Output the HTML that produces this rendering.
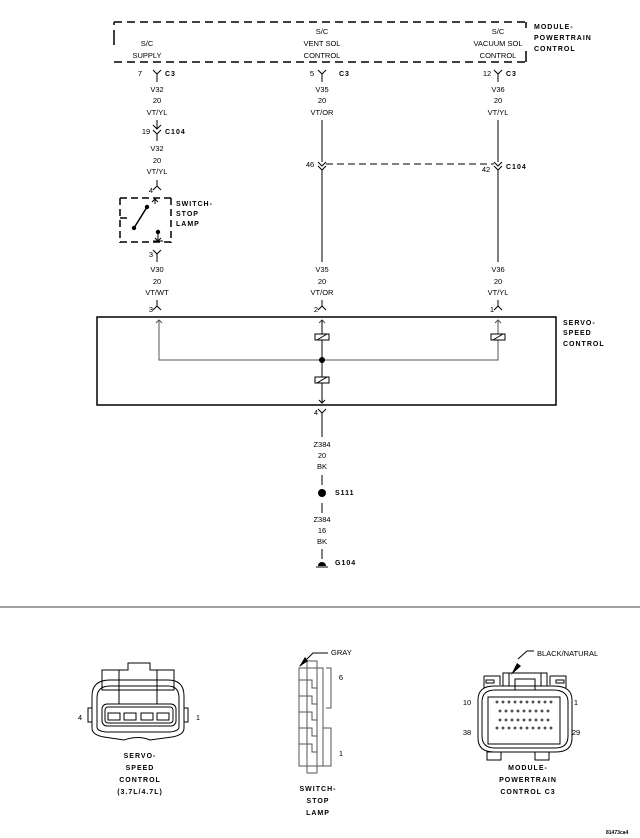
<!DOCTYPE html>
<html><head><meta charset="utf-8"><style>
html,body{margin:0;padding:0;background:#fff;}
svg{display:block;}
text{font-family:"Liberation Sans",sans-serif;fill:#000;}
.s{font-size:7.5px;font-stretch:condensed;}
.b{font-size:7px;font-weight:bold;letter-spacing:1px;}
</style></head><body>
<svg width="640" height="838" viewBox="0 0 640 838" xmlns="http://www.w3.org/2000/svg">
<g stroke="#000" fill="none" stroke-width="1">
<path d="M114 22 H526" stroke-dasharray="8,5" stroke-width="1.5"/>
<path d="M114 62 H526" stroke-dasharray="8,5" stroke-width="1.5"/>
<path d="M114 22 V25 M114 30 V45 M526 22 V28 M526 51 V62" stroke-width="1.5"/>
<path d="M153 70 L157 74 L161 70 M157 74 V82"/>
<path d="M157 120 V128 M153 125 L157 129 L161 125 M153 130 L157 134 L161 130 M157 134 V141"/>
<path d="M157 180 V186 M153 190 L157 186 L161 190"/>
<path d="M120 198 H171 M120 242 H171 M120 198 V243 M171 198 V243 M120 218 H128" stroke-dasharray="7,4" stroke-width="1.5"/>
<path d="M155 199 V204 M152 202 L155 199 L158 202"/>
<path d="M134 228 L147 207" stroke-width="1.5"/>
<path d="M158 232 V242 M153 241 H163 M155 238 L158 241 L161 238"/>
<path d="M153 250 L157 254 L161 250 M157 254 V262"/>
<path d="M157 300 V306 M153 310 L157 306 L161 310"/>
<path d="M318 70 L322 74 L326 70 M322 74 V82"/>
<path d="M322 120 V162 M318 162 L322 166 L326 162 M318 166 L322 170 L326 166 M322 170 V262"/>
<path d="M322 300 V306 M318 310 L322 306 L326 310"/>
<path d="M494 70 L498 74 L502 70 M498 74 V82"/>
<path d="M498 120 V162 M494 162 L498 166 L502 162 M494 166 L498 170 L502 166 M498 170 V262"/>
<path d="M498 300 V306 M494 310 L498 306 L502 310"/>
<path d="M326 164 H494" stroke-dasharray="7,4"/>
<rect x="97" y="317" width="459" height="88" stroke-width="1.5"/>
<path d="M159 320 V360 H498 V320 M156 323 L159 320 L162 323 M319 323 L322 320 L325 323 M495 323 L498 320 L501 323" stroke="#555"/>
<path d="M322 320 V403 M319 400 L322 403 L325 400"/>
<rect x="315" y="334" width="14" height="6" fill="#fff"/><path d="M317 340 L327 334"/>
<rect x="491" y="334" width="14" height="6" fill="#fff"/><path d="M493 340 L503 334"/>
<rect x="315" y="377" width="14" height="6" fill="#fff"/><path d="M317 383 L327 377"/>
<path d="M318 409 L322 413 L326 409 M322 413 V437"/>
<path d="M322 475 V485 M322 503 V513 M322 549 V559 M316 567 H328"/>
<path d="M0 607 H640" stroke="#444"/>
</g>
<circle cx="322" cy="360" r="3"/>
<circle cx="147" cy="207" r="2.2"/><circle cx="134" cy="228" r="2.2"/><circle cx="158" cy="232" r="2.2"/>
<circle cx="322" cy="493" r="4"/>
<path d="M318 566 A4 4 0 0 1 326 566 Z"/>
<g class="s" text-anchor="middle">
<text x="147" y="46">S/C</text><text x="147" y="58">SUPPLY</text>
<text x="322" y="34">S/C</text><text x="322" y="46">VENT SOL</text><text x="322" y="58">CONTROL</text>
<text x="498" y="34">S/C</text><text x="498" y="46">VACUUM SOL</text><text x="498" y="58">CONTROL</text>
<text x="157" y="92">V32</text><text x="157" y="103">20</text><text x="157" y="115">VT/YL</text>
<text x="157" y="151">V32</text><text x="157" y="163">20</text><text x="157" y="174">VT/YL</text>
<text x="322" y="92">V35</text><text x="322" y="103">20</text><text x="322" y="115">VT/OR</text>
<text x="498" y="92">V36</text><text x="498" y="103">20</text><text x="498" y="115">VT/YL</text>
<text x="157" y="272">V30</text><text x="157" y="284">20</text><text x="157" y="295">VT/WT</text>
<text x="322" y="272">V35</text><text x="322" y="284">20</text><text x="322" y="295">VT/OR</text>
<text x="498" y="272">V36</text><text x="498" y="284">20</text><text x="498" y="295">VT/YL</text>
<text x="322" y="447">Z384</text><text x="322" y="458">20</text><text x="322" y="469">BK</text>
<text x="322" y="522">Z384</text><text x="322" y="533">16</text><text x="322" y="544">BK</text>
<text x="140" y="76">7</text><text x="312" y="76">5</text><text x="487" y="76">12</text>
<text x="146" y="134">19</text><text x="151" y="193">4</text><text x="151" y="257">3</text>
<text x="310" y="167">46</text><text x="486" y="172">42</text>
<text x="151" y="312">3</text><text x="316" y="312">2</text><text x="492" y="312">1</text>
<text x="316" y="415">4</text>
<text x="80" y="720">4</text><text x="198" y="720">1</text>
<text x="341" y="680">6</text><text x="341" y="756">1</text>
<text x="467" y="705">10</text><text x="576" y="705">1</text>
<text x="467" y="735">38</text><text x="576" y="735">29</text>
</g>
<g class="b">
<text x="165" y="76">C3</text><text x="339" y="76">C3</text><text x="506" y="76">C3</text>
<text x="165" y="134">C104</text><text x="506" y="169">C104</text>
<text x="176" y="206">SWITCH-</text><text x="176" y="216">STOP</text><text x="176" y="226">LAMP</text>
<text x="534" y="29">MODULE-</text><text x="534" y="40">POWERTRAIN</text><text x="534" y="51">CONTROL</text>
<text x="563" y="325">SERVO-</text><text x="563" y="335">SPEED</text><text x="563" y="346">CONTROL</text>
<text x="335" y="495">S111</text><text x="335" y="565">G104</text>
</g>
<g class="b" text-anchor="middle">
<text x="140" y="758">SERVO-</text><text x="140" y="770">SPEED</text><text x="140" y="782">CONTROL</text><text x="140" y="794">(3.7L/4.7L)</text>
<text x="318" y="791">SWITCH-</text><text x="318" y="803">STOP</text><text x="318" y="815">LAMP</text>
<text x="528" y="770">MODULE-</text><text x="528" y="782">POWERTRAIN</text><text x="528" y="794">CONTROL C3</text>
</g>
<text x="606" y="834" style="font-size:5px;font-weight:bold">81473ca4</text>
<g stroke="#000" fill="none" stroke-width="1">
<path d="M102 670 H128 V663 H150 V670 H174 V690 H102 Z"/>
<path d="M92 696 Q92 680 110 680 H168 Q184 680 184 696 V728 Q184 735 172 737 L150 740 Q138 735 124 740 L104 737 Q92 735 92 728 Z"/>
<path d="M97 698 Q97 686 110 686 H168 Q179 686 179 698 V727 Q179 731 170 732 H106 Q97 731 97 727 Z"/>
<rect x="102" y="704" width="74" height="22" rx="5"/><rect x="105" y="707" width="68" height="16" rx="3"/>
<path d="M119 670 V704 M157 670 V704"/>
<rect x="108" y="713" width="12" height="7"/><rect x="124" y="713" width="12" height="7"/><rect x="141" y="713" width="12" height="7"/><rect x="157" y="713" width="12" height="7"/>
<rect x="88" y="708" width="4" height="14"/><rect x="184" y="708" width="4" height="14"/>
</g>
<g stroke="#555" fill="none" stroke-width="1">
<rect x="299" y="668" width="24" height="98"/><rect x="307" y="661" width="10" height="112"/>
<path d="M323 668 V700 M326 668 H331 V708 H326 M323 728 H331 V766 H323"/>
<path d="M299 680 H312 V688 H317 M299 696 H312 V704 H317 M299 712 H312 V720 H317 M299 728 H312 V736 H317 M299 744 H312 V752 H317"/>
<path d="M300 666 L313 653 H328" stroke="#000"/>
</g>
<path d="M299 667 L305 657 L308 661 Z"/>
<text class="s" x="331" y="655">GRAY</text>
<g stroke="#000" fill="none" stroke-width="1">
<path d="M484 676 H500 V685 M484 676 V688 M550 676 H566 V688 M550 676 V685"/>
<rect x="486" y="680" width="8" height="3"/><rect x="556" y="680" width="8" height="3"/>
<path d="M503 686 V673 H547 V686 M509 673 V686 M541 673 V686 M515 679 H535 V690 H515 Z"/>
<path d="M478 700 Q478 686 494 686 H554 Q572 686 572 700 V738 Q572 752 556 752 H494 Q478 752 478 738 Z"/>
<path d="M482 702 Q482 690 495 690 H553 Q568 690 568 702 V736 Q568 748 555 748 H495 Q482 748 482 736 Z"/>
<path d="M488 697 H560 V744 H488 Z"/>
<rect x="487" y="752" width="14" height="8"/><rect x="535" y="752" width="14" height="8"/>
<path d="M518 659 L527 651 H534"/>
</g>
<path d="M511 675 L517 663 L521 666 Z"/>
<text class="s" x="537" y="656">BLACK/NATURAL</text>
<g fill="none" stroke="#000" stroke-width="0.7">
<circle cx="497" cy="702" r="1"/><circle cx="503" cy="702" r="1"/><circle cx="509" cy="702" r="1"/><circle cx="515" cy="702" r="1"/><circle cx="521" cy="702" r="1"/><circle cx="527" cy="702" r="1"/><circle cx="533" cy="702" r="1"/><circle cx="539" cy="702" r="1"/><circle cx="545" cy="702" r="1"/><circle cx="551" cy="702" r="1"/>
<circle cx="500" cy="711" r="1"/><circle cx="506" cy="711" r="1"/><circle cx="512" cy="711" r="1"/><circle cx="518" cy="711" r="1"/><circle cx="524" cy="711" r="1"/><circle cx="530" cy="711" r="1"/><circle cx="536" cy="711" r="1"/><circle cx="542" cy="711" r="1"/><circle cx="548" cy="711" r="1"/>
<circle cx="500" cy="720" r="1"/><circle cx="506" cy="720" r="1"/><circle cx="512" cy="720" r="1"/><circle cx="518" cy="720" r="1"/><circle cx="524" cy="720" r="1"/><circle cx="530" cy="720" r="1"/><circle cx="536" cy="720" r="1"/><circle cx="542" cy="720" r="1"/><circle cx="548" cy="720" r="1"/>
<circle cx="497" cy="728" r="1"/><circle cx="503" cy="728" r="1"/><circle cx="509" cy="728" r="1"/><circle cx="515" cy="728" r="1"/><circle cx="521" cy="728" r="1"/><circle cx="527" cy="728" r="1"/><circle cx="533" cy="728" r="1"/><circle cx="539" cy="728" r="1"/><circle cx="545" cy="728" r="1"/><circle cx="551" cy="728" r="1"/>
</g>
</svg>
</body></html>
